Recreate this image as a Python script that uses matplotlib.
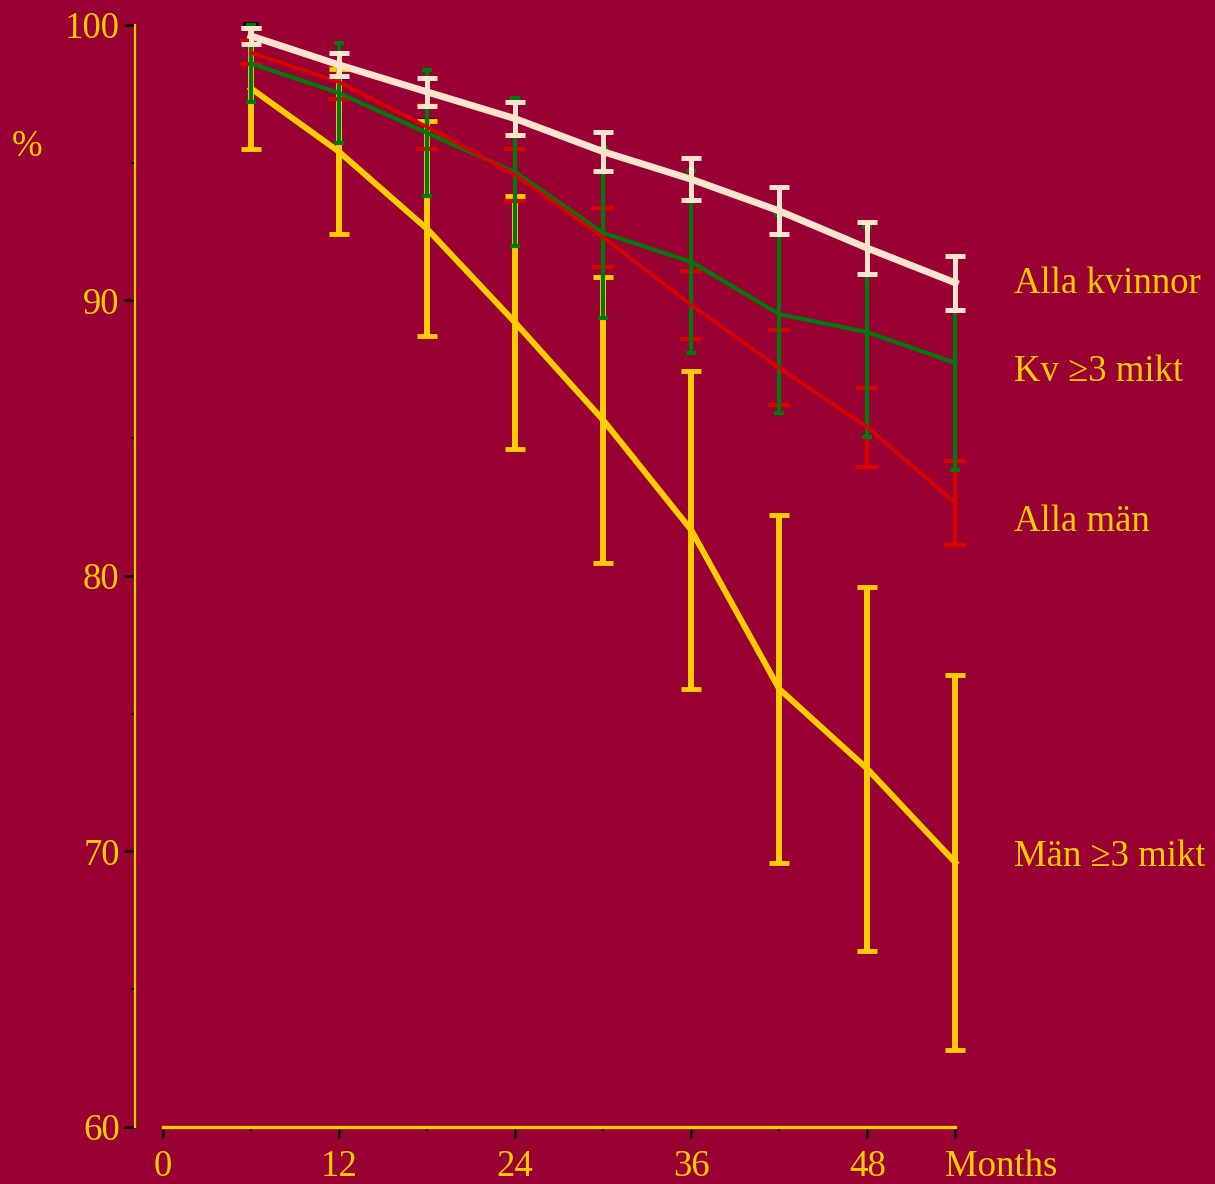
import matplotlib
matplotlib.use("Agg")
import matplotlib.pyplot as plt
import numpy as np

months = [6, 12, 18, 24, 30, 36, 42, 48, 54]

# Alla kvinnor
kv_all = [99.6, 98.55, 97.57, 96.6, 95.4, 94.4, 93.25, 91.9, 90.64]
kv_all_err = [0.3, 0.42, 0.5, 0.6, 0.7, 0.76, 0.85, 0.93, 0.98]
# Kv >=3 mikt
kv3 = [98.6, 97.53, 96.08, 94.66, 92.45, 91.4, 89.5, 88.85, 87.73]
kv3_err = [1.4, 1.83, 2.3, 2.7, 3.1, 3.3, 3.6, 3.8, 3.9]
# Alla män
men_all = [99.0, 97.93, 96.3, 94.56, 92.3, 89.84, 87.55, 85.4, 82.65]
men_all_err = [0.4, 0.62, 0.8, 0.95, 1.07, 1.23, 1.36, 1.43, 1.53]
# Män >=3 mikt
men3 = [97.7, 95.4, 92.6, 89.2, 85.66, 81.67, 75.9, 73.0, 69.6]
men3_err = [2.2, 3.0, 3.9, 4.6, 5.2, 5.77, 6.33, 6.6, 6.8]

# small partly hidden caps (other series)
blue_cap_x = [6, 12]
blue_cap_y = [99.3, 98.1]
black_cap_x = [6, 18]
black_cap_y = [100.0, 96.5]

labels = ["Alla kvinnor", "Kv \u22653 mikt", "Alla män", "Män \u22653 mikt"]
label_y = [90.6, 87.4, 81.95, 69.8]

xticks = [0, 12, 24, 36, 48]
yticks = [60, 70, 80, 90, 100]

BG = "#990033"
YEL = "#FFCC00"
PEACH = "#FFE3CC"
GREEN = "#007A0F"
RED = "#DD0000"
FS = 26.5

plt.rcParams['font.family'] = ['Liberation Serif', 'DejaVu Serif']

fig = plt.figure(figsize=(12.15, 11.84), dpi=100, facecolor=BG)
ax = fig.add_axes([0.1111, 0.04814, 0.7235, 0.9308], facecolor=BG)
ax.set_xlim(-1.9, 58)
ax.set_ylim(60, 100)

# hidden caps
ax.plot(black_cap_x, black_cap_y, ls='none', marker='_', ms=12, mew=4, color='black', clip_on=False, zorder=1)
ax.plot(blue_cap_x, blue_cap_y, ls='none', marker='_', ms=14, mew=4, color='#0000DD', clip_on=False, zorder=1)

# Män >=3 mikt
ax.errorbar(months, men3, yerr=men3_err, color=YEL, lw=4.3, elinewidth=4.3,
            capsize=7, capthick=3.5, clip_on=False, zorder=2)
# Alla män error bars (caps) beneath green
ax.errorbar(months, men_all, yerr=men_all_err, color=RED, lw=0, elinewidth=3,
            capsize=8, capthick=3, clip_on=False, zorder=3)
# Kv >=3 mikt
ax.errorbar(months, kv3, yerr=kv3_err, color=GREEN, lw=3, elinewidth=3,
            capsize=3.5, capthick=3, clip_on=False, zorder=4)
# Alla män line
ax.plot(months, men_all, color=RED, lw=2.6, clip_on=False, zorder=5)
# Alla kvinnor
ax.errorbar(months, kv_all, yerr=kv_all_err, color=PEACH, lw=5, elinewidth=3.6,
            capsize=7.5, capthick=3.6, clip_on=False, zorder=6)

# spines
for s in ['top', 'right']:
    ax.spines[s].set_visible(False)
ax.spines['left'].set_color(YEL)
ax.spines['left'].set_linewidth(1.6)
ax.spines['left'].set_bounds(60, 100)
ax.spines['bottom'].set_color(YEL)
ax.spines['bottom'].set_linewidth(2.4)
ax.spines['bottom'].set_bounds(0, 54)
ax.spines['bottom'].set_position(('data', 60))

ax.set_yticks(yticks)
ax.set_yticks([65, 75, 85, 95], minor=True)
ax.set_xticks(xticks + [54])
ax.set_xticklabels([str(t) for t in xticks] + [""])
ax.set_xticks([6, 18, 30, 42], minor=True)

ax.tick_params(axis='both', which='major', colors='black', labelcolor=YEL,
               labelsize=FS, width=1.8, length=8, direction='out')
ax.tick_params(axis='y', which='major', pad=3)
ax.tick_params(axis='x', which='major', pad=8)
ax.tick_params(axis='both', which='minor', colors='black', width=1.5, length=3)

ax.annotate("Months", xy=(53.3, 60), xycoords='data', xytext=(0, -28.5),
            textcoords='offset points', color=YEL, fontsize=FS, ha='left',
            va='center', annotation_clip=False)

fig.text(0.022, 0.876, "%", color=YEL, fontsize=FS, ha='center', va='center')

for lab, ly in zip(labels, label_y):
    ax.text(58.0, ly, lab, color=YEL, fontsize=FS, ha='left', va='center', clip_on=False)

fig.savefig("out.png", dpi=100, facecolor=BG)
